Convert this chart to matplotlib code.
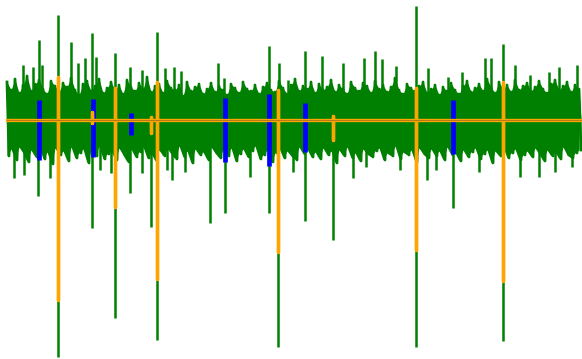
import numpy as np
import matplotlib
matplotlib.use("Agg")
import matplotlib.pyplot as plt

plt.rcParams["path.simplify"] = False

# signal envelope (units: px above the mean line)
start, step = 7, 4
sig_hi = [38, 30, 41, 27, 35, 44, 29, 36, 40, 31, 26, 39, 34,
          28, 37, 33, 42, 30, 25, 36, 39, 29, 34, 41, 27, 32,
          38, 30, 35, 26, 40, 33, 29, 37, 31, 43, 28, 34, 36,
          27, 39, 32, 30, 35, 24, 38, 29, 33, 36, 26, 31, 37,
          28, 34, 30, 25, 36, 32, 27, 38, 31, 29, 35, 26, 33,
          37, 30, 28, 39, 32, 26, 35, 41, 29, 34, 31, 38, 27,
          36, 30, 33, 40, 28, 35, 31, 26, 38, 32, 29, 37, 34,
          27, 39, 31, 35, 28, 33, 42, 30, 26, 36, 32, 29, 34,
          38, 27, 31, 35, 25, 33, 29, 37, 30, 26, 34, 39, 28,
          32, 36, 29, 41, 33, 27, 38, 31, 35, 28, 40, 30, 34,
          37, 29, 33, 39, 31, 27, 36, 40, 30, 34, 38, 28, 35, 31]
sig_lo = [-36, -29, -40, -27, -33, -42, -30, -37, -26, -39, -32, -44, -28,
          -35, -31, -41, -27, -38, -33, -29, -43, -30, -36, -26, -39, -34,
          -31, -40, -28, -35, -42, -29, -37, -32, -27, -38, -33, -41, -30,
          -36, -28, -34, -39, -26, -37, -31, -43, -29, -35, -32, -40, -27,
          -33, -38, -30, -36, -28, -41, -34, -29, -37, -31, -26, -39, -35,
          -30, -42, -33, -28, -38, -31, -36, -40, -27, -34, -29, -37, -32,
          -39, -28, -35, -31, -43, -30, -36, -27, -38, -33, -41, -29, -34,
          -37, -31, -28, -40, -33, -36, -26, -39, -32, -35, -30, -42, -28,
          -34, -38, -29, -36, -31, -40, -27, -35, -33, -41, -30, -37, -32,
          -28, -39, -34, -30, -43, -31, -36, -27, -38, -33, -29, -40, -35,
          -31, -37, -28, -34, -41, -30, -36, -32, -39, -27, -35, -38, -33, -30]

# single tall samples of the green signal
peak_x = [23, 33, 39, 42, 58, 71, 78, 85, 92, 96, 115, 130, 142, 157, 165, 174, 181,
          218, 224, 269, 279, 288, 305, 322, 343, 364, 375, 382, 396, 416, 428, 448,
          462, 485, 491, 503, 515, 530, 549, 559, 577]
peak_val = [55, 53, 80, 55, 105, 78, 57, 62, 87, 63, 67, 53, 50, 88, 52, 53, 49,
            57, 42, 74, 57, 40, 69, 64, 57, 62, 69, 61, 54, 114, 52, 43,
            48, 62, 62, 76, 55, 45, 48, 53, 55]
dip_x = [14, 24, 38, 50, 58, 92, 100, 111, 115, 130, 142, 151, 157, 167, 172, 185, 210,
         225, 250, 269, 278, 293, 305, 333, 353, 366, 400, 416, 427, 436, 453, 479, 503,
         520, 539, 555, 572]
dip_val = [-58, -55, -76, -58, -237, -108, -50, -53, -198, -73, -53, -107, -220, -50, -60,
           -52, -103, -93, -57, -93, -227, -52, -101, -120, -58, -47, -50, -227, -60, -50,
           -88, -52, -221, -57, -57, -52, -47]

# blue segments
blue_x = [39, 93, 131, 225, 269, 305, 453]
blue_top = [20, 21, 7, 22, 26, 17, 20]
blue_bot = [-40, -37, -15, -42, -46, -32, -34]

# orange events on the mean line
ev_x = [58, 92, 115, 151, 157, 278, 333, 416, 503]
ev_top = [43, 8, 32, 3, 38, 30, 4, 32, 38]
ev_bot = [-180, -3, -87, -13, -159, -132, -20, -130, -161]

fig = plt.figure(figsize=(5.82, 3.59), dpi=100)
ax = fig.add_axes([0, 0, 1, 1])

n = len(sig_hi)
xs = start + step * np.arange(n)
gx = np.empty(2 * n)
gy = np.empty(2 * n)
gx[0::2] = xs
gx[1::2] = xs + step / 2
gy[0::2] = sig_hi
gy[1::2] = sig_lo
# envelope band + zigzag trace for the jagged edges
ax.fill_between(gx, np.maximum(gy, 0), np.minimum(gy, 0), color="green", lw=0, zorder=1)
ax.fill_between(xs, sig_lo, sig_hi, color="green", lw=0, zorder=1, interpolate=False)
ax.plot(gx, gy, color="green", lw=2.0, zorder=1)
ax.vlines(peak_x, 0, peak_val, color="green", lw=1.8, zorder=1)
ax.vlines(dip_x, 0, dip_val, color="green", lw=1.8, zorder=1)

ax.vlines(blue_x, blue_bot, blue_top, color="blue", lw=3.4, zorder=2)

ox = [start]
oy = [0]
for x, t, b in zip(ev_x, ev_top, ev_bot):
    ox += [x, x, x, x]
    oy += [0, t, b, 0]
ox.append(gx[-1] + 2)
oy.append(0)
ax.plot(ox, oy, color="orange", lw=2.4, zorder=3)
ax.plot([start, gx[-1] + 2], [0, 0], color="#b8791a", lw=0.7, zorder=4)

ax.set_xlim(0, 582)
ax.set_ylim(-239, 120)
ax.axis("off")

fig.savefig("out.png", dpi=100)
